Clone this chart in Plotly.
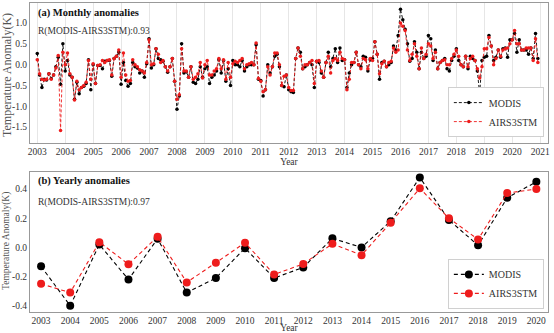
import plotly.graph_objects as go

years_monthly = list(range(2003, 2021))

modis_monthly = [
    # 2003
    0.27, -0.25, -0.55, -0.35, -0.37, -0.22, -0.33, -0.25, -0.05, 0.18, -0.47, 0.50,
    # 2004
    -0.15, 0.10, -0.25, -0.30, -0.83, -0.42, -0.70, -0.55, -0.52, -0.45, 0.12, -0.60,
    # 2005
    0.00, -0.45, -0.02, -0.02, -0.10, 0.08, 0.10, 0.10, -0.28, 0.15, 0.20, 0.30,
    # 2006
    -0.47, 0.05, -0.38, -0.52, -0.45, 0.05, -0.05, -0.08, -0.20, -0.15, -0.30, 0.02,
    # 2007
    0.62, -0.08, 0.00, 0.38, 0.15, 0.12, 0.08, -0.05, -0.18, -0.05, 0.15, -0.40,
    # 2008
    -1.07, -0.75, 0.50, -0.20, -0.17, -0.30, -0.05, -0.42, -0.45, -0.35, -0.05, -0.30,
    # 2009
    -0.10, -0.05, -0.45, -0.30, -0.25, -0.15, 0.12, -0.20, 0.10, -0.40, -0.10, -0.50,
    # 2010
    0.10, 0.00, 0.00, -0.05, 0.10, -0.15, -0.05, 0.00, 0.00, 0.00, 0.48, -0.35,
    # 2011
    -0.38, -0.75, -0.60, 0.00, -0.20, -0.05, 0.20, 0.25, -0.05, -0.50, -0.53, -0.25,
    # 2012
    -0.60, -0.65, -0.67, 0.15, 0.40, 0.30, -0.10, -0.05, 0.00, 0.05, 0.00, -0.55,
    # 2013
    0.08, 0.05, -0.20, -0.30, 0.05, 0.30, -0.05, 0.15, 0.38, 0.05, 0.40, 0.10,
    # 2014
    0.12, -0.55, -0.20, 0.00, 0.05, 0.30, 0.00, -0.05, 0.20, 0.18, -0.15, 0.12,
    # 2015
    0.15, 0.55, 0.25, -0.35, 0.05, 0.08, -0.05, 0.00, 0.05, 0.45, 0.35, 0.70,
    # 2016
    1.33, 1.08, 0.85, 0.50, 0.08, 0.15, 0.55, 0.30, -0.10, 0.30, 0.15, 0.20,
    # 2017
    0.70, 0.62, 0.10, 0.35, -0.10, 0.05, 0.10, 0.15, -0.10, -0.15, 0.10, 0.20,
    # 2018
    0.38, 0.10, 0.00, -0.05, 0.20, -0.10, 0.20, 0.15, 0.10, -0.15, -0.70, 0.10,
    # 2019
    0.18, 0.20, 0.70, 0.45, 0.10, 0.18, 0.35, 0.18, 0.38, 0.40, 0.18, 0.60,
    # 2020
    0.60, 0.75, 0.30, 0.60, 0.35, 0.35, 0.35, 0.25, 0.40, 0.15, 0.75, 0.15,
]

airs_monthly = [
    # 2003
    0.12, -0.22, -0.35, -0.37, -0.35, -0.22, -0.35, -0.25, -0.08, 0.22, -1.58, 0.30,
    # 2004
    0.00, 0.28, -0.22, -0.30, -0.85, -0.40, -0.60, -0.55, -0.50, -0.42, 0.10, -0.35,
    # 2005
    0.02, -0.45, -0.02, 0.00, 0.10, 0.05, 0.10, 0.12, -0.25, 0.15, 0.20, 0.35,
    # 2006
    -0.30, 0.28, -0.25, -0.40, -0.38, 0.12, 0.00, -0.05, -0.12, -0.15, -0.20, 0.05,
    # 2007
    0.60, 0.00, 0.02, 0.38, 0.25, 0.05, 0.10, -0.05, -0.15, -0.05, 0.15, -0.40,
    # 2008
    -0.83, -0.72, 0.38, -0.15, -0.15, -0.30, -0.05, -0.35, -0.30, -0.22, 0.05, -0.32,
    # 2009
    0.00, 0.10, -0.25, -0.25, -0.15, -0.10, 0.15, -0.10, 0.12, -0.35, 0.05, -0.30,
    # 2010
    0.02, 0.08, 0.05, 0.10, 0.15, -0.10, 0.00, 0.02, 0.05, 0.00, 0.52, -0.33,
    # 2011
    -0.40, -0.65, -0.60, -0.05, -0.25, -0.05, 0.28, 0.28, 0.00, -0.50, -0.28, -0.25,
    # 2012
    -0.55, -0.62, -0.62, 0.15, 0.40, 0.20, -0.10, 0.00, 0.00, 0.05, 0.10, -0.45,
    # 2013
    0.08, 0.10, -0.15, -0.30, 0.05, 0.20, -0.20, 0.10, 0.15, 0.10, 0.30, 0.15,
    # 2014
    0.12, -0.60, -0.35, 0.05, 0.05, 0.30, 0.00, -0.10, 0.15, 0.12, -0.10, 0.15,
    # 2015
    0.10, 0.55, 0.25, -0.22, 0.02, 0.08, -0.05, 0.05, 0.08, 0.40, 0.30, 0.35,
    # 2016
    1.00, 0.92, 0.82, 0.35, 0.10, 0.25, 0.50, 0.20, -0.10, 0.40, 0.15, 0.25,
    # 2017
    0.50, 0.45, 0.15, 0.30, -0.10, 0.05, 0.10, 0.12, 0.00, 0.00, 0.15, 0.25,
    # 2018
    0.35, 0.20, 0.00, -0.05, 0.20, -0.05, 0.15, 0.20, 0.10, -0.10, -0.32, -0.05,
    # 2019
    0.38, 0.38, 0.65, 0.45, 0.00, 0.15, 0.35, 0.20, 0.35, 0.38, 0.40, 0.50,
    # 2020
    0.60, 0.82, 0.50, 0.50, 0.35, 0.35, 0.40, 0.40, 0.40, 0.10, 0.62, 0.05,
]

years = list(range(2003, 2021))
modis_yearly = [-0.13, -0.40, 0.02, -0.22, 0.06, -0.31, -0.21, -0.005, -0.21, -0.137,
                0.062, 0.0, 0.18, 0.48, 0.188, 0.014, 0.34, 0.45]
airs_yearly = [-0.25, -0.31, 0.036, -0.115, 0.073, -0.24, -0.105, 0.032, -0.186, -0.113,
               0.025, -0.053, 0.17, 0.405, 0.20, 0.055, 0.373, 0.40]

top_xticks = list(range(2003, 2022))
bot_xticks = list(range(2003, 2021))
top_yticks = [1.0, 0.5, 0.0, -0.5, -1.0, -1.5]
top_yticktext = ["1.0", "0.5", "0.0", "-0.5", "-1.0", "-1.5"]
bot_yticks = [0.4, 0.2, 0.0, -0.2, -0.4]
bot_yticktext = ["0.4", "0.2", "0.0", "-0.2", "-0.4"]

month_x = [y + m / 12 for y in years_monthly for m in range(12)]

FONT = "Liberation Serif"
BLACK = "#000000"
RED = "#ee1c1c"
FRAME = "#999999"
TXT = "#333333"

fig = go.Figure()

fig.add_trace(go.Scatter(
    x=month_x, y=modis_monthly, name="MODIS", mode="lines+markers",
    line=dict(color=BLACK, width=0.9, dash="3px,2px"),
    marker=dict(color=BLACK, size=3.5),
    xaxis="x", yaxis="y", legend="legend"))
fig.add_trace(go.Scatter(
    x=month_x, y=airs_monthly, name="AIRS3STM", mode="lines+markers",
    line=dict(color=RED, width=0.9, dash="3px,2px"),
    marker=dict(color=RED, size=3.5),
    xaxis="x", yaxis="y", legend="legend"))

fig.add_trace(go.Scatter(
    x=years, y=modis_yearly, name="MODIS", mode="lines+markers",
    line=dict(color=BLACK, width=1.1, dash="4px,3px"),
    marker=dict(color=BLACK, size=8),
    xaxis="x2", yaxis="y2", legend="legend2"))
fig.add_trace(go.Scatter(
    x=years, y=airs_yearly, name="AIRS3STM", mode="lines+markers",
    line=dict(color=RED, width=1.1, dash="4px,3px"),
    marker=dict(color=RED, size=8),
    xaxis="x2", yaxis="y2", legend="legend2"))

axis_common = dict(
    showline=True, linecolor=FRAME, linewidth=1, mirror=True,
    ticks="", automargin=False,
    tickfont=dict(family=FONT, size=9.5, color=TXT),
    zeroline=False,
)

legend_common = dict(
    xanchor="right", yanchor="bottom",
    bgcolor="white", bordercolor="#d0d0d0", borderwidth=1,
    font=dict(family=FONT, size=10, color=TXT),
    tracegroupgap=0, itemwidth=30,
)

fig.update_layout(
    width=554, height=333,
    margin=dict(l=30, r=6, t=3, b=21),
    paper_bgcolor="white", plot_bgcolor="white",
    font=dict(family=FONT, size=10, color=TXT),
    xaxis=dict(
        domain=[0, 1], anchor="y", range=[2002.74, 2021.28],
        tickvals=top_xticks, ticktext=[str(v) for v in top_xticks],
        showgrid=True, gridcolor="#e6e6e6", gridwidth=1,
        title=dict(text="Year", font=dict(family=FONT, size=9.5, color=TXT), standoff=0),
        **axis_common),
    yaxis=dict(
        domain=[0.547, 1], anchor="x", range=[-1.88, 1.48],
        tickvals=top_yticks, ticktext=top_yticktext, showgrid=False,
        **axis_common),
    xaxis2=dict(
        domain=[0, 1], anchor="y2", range=[2002.62, 2020.4],
        tickvals=bot_xticks, ticktext=[str(v) for v in bot_xticks],
        showgrid=False,
        title=dict(text="Year", font=dict(family=FONT, size=9.5, color=TXT), standoff=0),
        **axis_common),
    yaxis2=dict(
        domain=[0, 0.452], anchor="x2", range=[-0.443, 0.515],
        tickvals=bot_yticks, ticktext=bot_yticktext, showgrid=False,
        **axis_common),
    legend=dict(x=0.992, y=0.566, **legend_common),
    legend2=dict(x=0.992, y=0.01, **legend_common),
    annotations=[
        dict(text="<b>(a) Monthly anomalies</b>", xref="paper", yref="paper",
             x=0.0116, y=0.968, xanchor="left", yanchor="middle", showarrow=False,
             font=dict(family=FONT, size=10.5, color="#111")),
        dict(text="R(MODIS-AIRS3STM):0.93", xref="paper", yref="paper",
             x=0.0116, y=0.909, xanchor="left", yanchor="middle", showarrow=False,
             font=dict(family=FONT, size=9.5, color=TXT)),
        dict(text="<b>(b) Yearly anomalies</b>", xref="paper", yref="paper",
             x=0.0116, y=0.425, xanchor="left", yanchor="middle", showarrow=False,
             font=dict(family=FONT, size=10.5, color="#111")),
        dict(text="R(MODIS-AIRS3STM):0.97", xref="paper", yref="paper",
             x=0.0116, y=0.354, xanchor="left", yanchor="middle", showarrow=False,
             font=dict(family=FONT, size=9.5, color=TXT)),
        dict(text="Temperature Anomaly(K)", xref="paper", yref="paper",
             x=-0.0444, y=0.767, xanchor="center", yanchor="middle", showarrow=False,
             textangle=-90, font=dict(family=FONT, size=12, color="#555")),
        dict(text="Temperature Anomaly(K)", xref="paper", yref="paper",
             x=-0.0444, y=0.230, xanchor="center", yanchor="middle", showarrow=False,
             textangle=-90, font=dict(family=FONT, size=9.5, color="#555")),
    ],
)

fig.write_html("out.html")
